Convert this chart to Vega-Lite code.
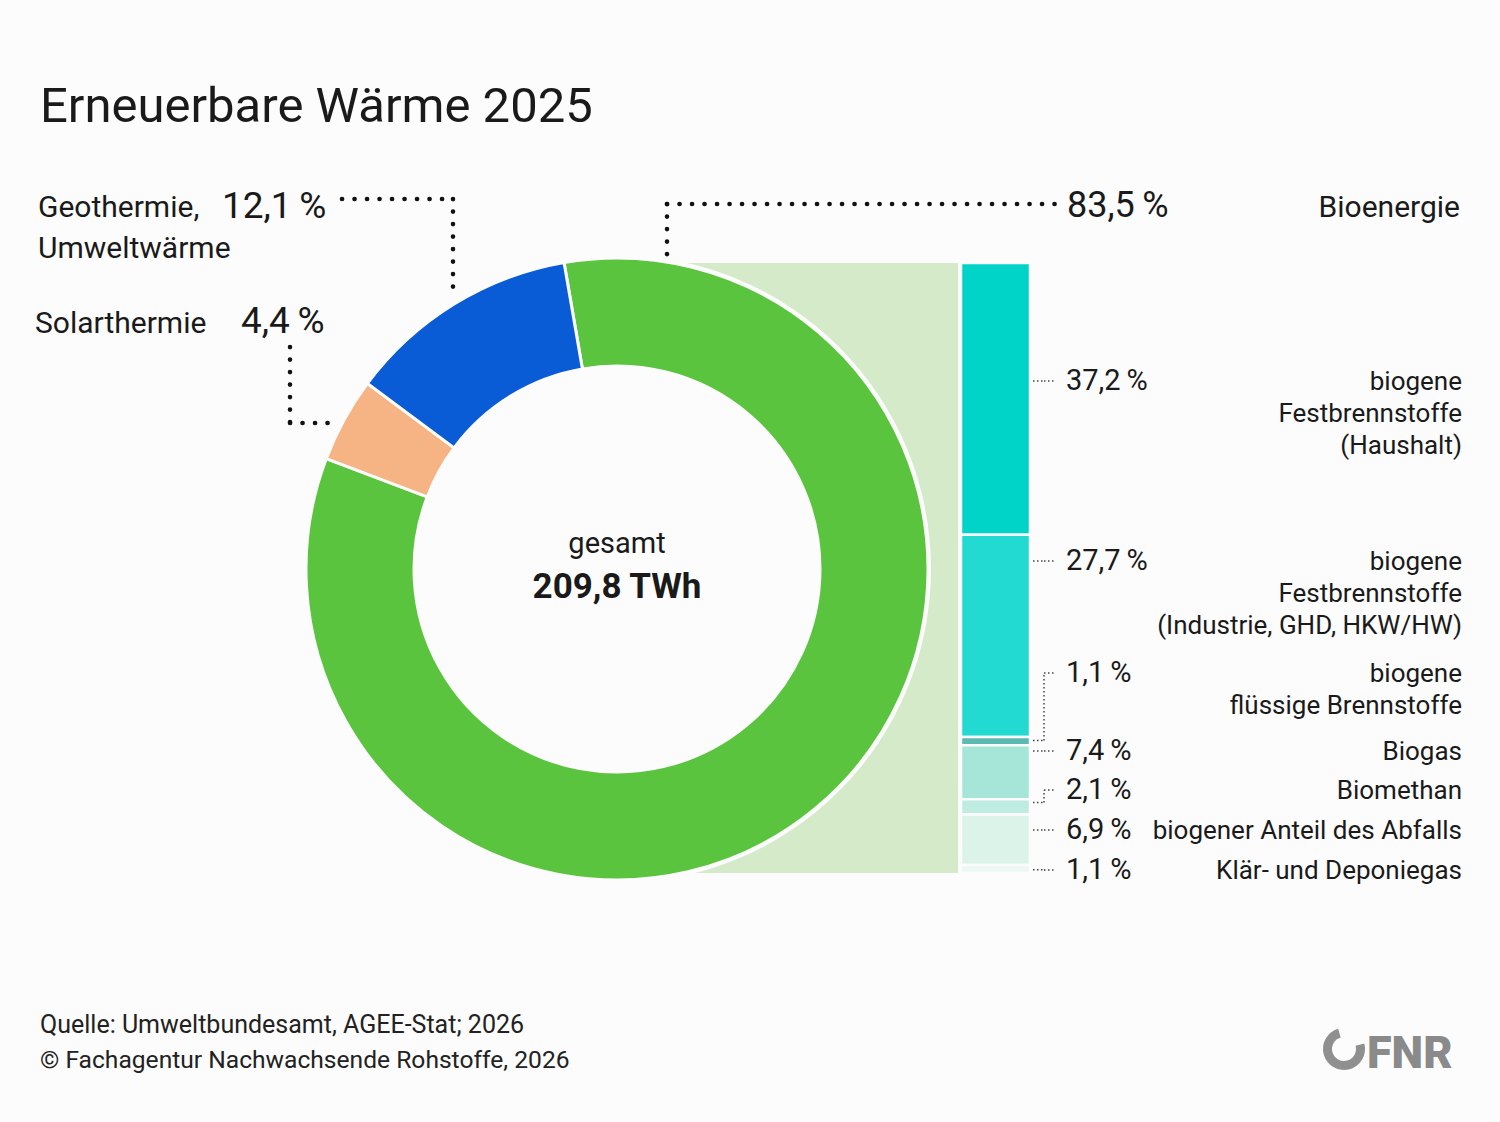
{
  "$schema": "https://vega.github.io/schema/vega-lite/v6.json",
  "width": 1500,
  "height": 610,
  "padding": {"left": 0, "top": 263, "right": 0, "bottom": 249},
  "autosize": {"type": "none"},
  "background": "#fcfcfc",
  "config": {
    "view": {"stroke": null},
    "font": "Roboto",
    "text": {"font": "Roboto", "color": "#1a1a1a"}
  },
  "datasets": {
    "heat": [
      {"key": "Bioenergie", "label": "Bioenergie", "value": 83.5, "order": 1},
      {"key": "Solarthermie", "label": "Solarthermie", "value": 4.4, "order": 2},
      {"key": "Geothermie, Umweltwärme", "label": "Geothermie,\nUmweltwärme", "value": 12.1, "order": 3}
    ],
    "bio": [
      {"key": "Haushalt", "label": "biogene\nFestbrennstoffe\n(Haushalt)", "value": 37.2, "order": 1},
      {"key": "Industrie", "label": "biogene\nFestbrennstoffe\n(Industrie, GHD, HKW/HW)", "value": 27.7, "order": 2},
      {"key": "flüssig", "label": "biogene\nflüssige Brennstoffe", "value": 1.1, "order": 3},
      {"key": "Biogas", "label": "Biogas", "value": 7.4, "order": 4},
      {"key": "Biomethan", "label": "Biomethan", "value": 2.1, "order": 5},
      {"key": "Abfall", "label": "biogener Anteil des Abfalls", "value": 6.9, "order": 6},
      {"key": "Klärgas", "label": "Klär- und Deponiegas", "value": 1.1, "order": 7}
    ]
  },
  "layer": [
    {
      "description": "light green band linking the bioenergy slice to the breakdown column",
      "data": {"name": "heat"},
      "transform": [{"filter": "datum.key === 'Bioenergie'"}],
      "mark": {"type": "rect", "x": 667, "x2": 958, "fill": "#d4eac8"},
      "encoding": {
        "y": {"field": "value", "type": "quantitative", "scale": {"domain": [0, 83.5], "reverse": true, "nice": false, "zero": false}, "axis": null},
        "y2": {"datum": 0}
      }
    },
    {
      "description": "background disc: white halo round the ring and the hole inside it",
      "data": {"name": "heat"},
      "transform": [{"filter": "datum.key === 'Bioenergie'"}],
      "mark": {"type": "arc", "x": 617, "y": 306, "outerRadius": 314, "innerRadius": 0, "theta": 0, "theta2": 6.2832, "fill": "#fcfcfc"},
      "encoding": {}
    },
    {
      "description": "ring of renewable heat sources",
      "data": {"name": "heat"},
      "mark": {"type": "arc", "x": 617, "y": 306, "outerRadius": 311, "innerRadius": 203, "stroke": "#fcfcfc", "strokeWidth": 3},
      "encoding": {
        "theta": {"field": "value", "type": "quantitative", "stack": true, "scale": {"range": [-0.171, 6.112]}},
        "order": {"field": "order", "type": "quantitative"},
        "color": {
          "field": "key",
          "type": "nominal",
          "legend": null,
          "scale": {
            "domain": ["Bioenergie", "Solarthermie", "Geothermie, Umweltwärme", "Haushalt", "Industrie", "flüssig", "Biogas", "Biomethan", "Abfall", "Klärgas"],
            "range": ["#5bc43e", "#f6b383", "#0a5cd6", "#00d3c7", "#22dad2", "#5ab9b0", "#a6e6d8", "#bfece1", "#dcf3ea", "#ecf8f3"]
          }
        }
      }
    },
    {
      "data": {"name": "heat"},
      "transform": [{"filter": "datum.key === 'Bioenergie'"}],
      "mark": {"type": "text", "text": "gesamt", "x": 617, "y": 290, "align": "center", "baseline": "alphabetic", "fontSize": 29},
      "encoding": {}
    },
    {
      "data": {"name": "heat"},
      "transform": [{"filter": "datum.key === 'Bioenergie'"}],
      "mark": {"type": "text", "text": "209,8 TWh", "x": 617, "y": 335, "align": "center", "baseline": "alphabetic", "fontSize": 35, "fontWeight": "bold"},
      "encoding": {}
    },
    {
      "description": "breakdown of bioenergy",
      "data": {"name": "bio"},
      "transform": [
        {"stack": "value", "groupby": [], "sort": [{"field": "order", "order": "ascending"}], "as": ["v0", "v1"]},
        {"calculate": "(datum.v0 + datum.v1) / 2", "as": "mid"},
        {"calculate": "datum.mid + [-2.45, -10.26, -9.32, -2.9, -2.31, -1.33, 0.14][datum.order - 1]", "as": "labelAt"},
        {"calculate": "clamp(datum.labelAt, datum.v0 + 0.45, datum.v1 - 0.45)", "as": "attach"},
        {"calculate": "replace(format(datum.value, '.1f'), '.', ',') + '\u2009%'", "as": "pct"}
      ],
      "layer": [
        {
          "mark": {"type": "rect", "x": 961, "x2": 1030, "stroke": "#fcfcfc", "strokeWidth": 2.5},
          "encoding": {
            "y": {"field": "v0", "type": "quantitative", "axis": null},
            "y2": {"field": "v1"},
            "color": {"field": "key", "type": "nominal", "legend": null}
          }
        },
        {
          "mark": {"type": "rule", "x": 1033, "x2": 1044, "stroke": "#444", "strokeWidth": 1.5, "strokeDash": [1.5, 2.5]},
          "encoding": {"y": {"field": "attach", "type": "quantitative"}}
        },
        {
          "mark": {"type": "rule", "x": 1044, "stroke": "#444", "strokeWidth": 1.5, "strokeDash": [1.5, 2.5]},
          "encoding": {"y": {"field": "attach", "type": "quantitative"}, "y2": {"field": "labelAt"}}
        },
        {
          "mark": {"type": "rule", "x": 1044, "x2": 1056, "stroke": "#444", "strokeWidth": 1.5, "strokeDash": [1.5, 2.5]},
          "encoding": {"y": {"field": "labelAt", "type": "quantitative"}}
        },
        {
          "mark": {"type": "text", "x": 1066, "align": "left", "baseline": "middle", "fontSize": 29},
          "encoding": {"y": {"field": "labelAt", "type": "quantitative"}, "text": {"field": "pct"}}
        },
        {
          "mark": {"type": "text", "x": 1462, "align": "right", "baseline": "alphabetic", "dy": 9, "fontSize": 26, "lineHeight": 32, "lineBreak": "\n"},
          "encoding": {"y": {"field": "labelAt", "type": "quantitative"}, "text": {"field": "label"}}
        }
      ]
    },
    {
      "data": {"name": "heat"},
      "transform": [
        {"filter": "datum.key === 'Bioenergie'"},
        {"calculate": "replace(format(datum.value, '.1f'), '.', ',') + '\u2009%'", "as": "pct"}
      ],
      "layer": [
        {"mark": {"type": "text", "x": 1067, "y": -46, "align": "left", "baseline": "alphabetic", "fontSize": 36}, "encoding": {"text": {"field": "pct"}}},
        {"mark": {"type": "text", "x": 1460, "y": -46, "align": "right", "baseline": "alphabetic", "fontSize": 30}, "encoding": {"text": {"field": "label"}}},
        {"mark": {"type": "rule", "stroke": "#111", "strokeWidth": 4.6, "strokeCap": "round", "strokeDash": [0.1, 12.4]}, "encoding": {"x": {"value": 667}, "x2": {"value": 1055}, "y": {"value": -59}}},
        {"mark": {"type": "rule", "stroke": "#111", "strokeWidth": 4.6, "strokeCap": "round", "strokeDash": [0.1, 12.4]}, "encoding": {"x": {"value": 667}, "y": {"value": -59}, "y2": {"value": 2}}}
      ]
    },
    {
      "data": {"name": "heat"},
      "transform": [
        {"filter": "datum.key === 'Geothermie, Umweltwärme'"},
        {"calculate": "replace(format(datum.value, '.1f'), '.', ',') + '\u2009%'", "as": "pct"}
      ],
      "layer": [
        {"mark": {"type": "text", "x": 222, "y": -45, "align": "left", "baseline": "alphabetic", "fontSize": 37}, "encoding": {"text": {"field": "pct"}}},
        {"mark": {"type": "text", "x": 38, "y": -46, "align": "left", "baseline": "alphabetic", "fontSize": 30, "lineHeight": 41, "lineBreak": "\n"}, "encoding": {"text": {"field": "label"}}},
        {"mark": {"type": "rule", "stroke": "#111", "strokeWidth": 4.6, "strokeCap": "round", "strokeDash": [0.1, 12.4]}, "encoding": {"x": {"value": 342}, "x2": {"value": 453}, "y": {"value": -64}}},
        {"mark": {"type": "rule", "stroke": "#111", "strokeWidth": 4.6, "strokeCap": "round", "strokeDash": [0.1, 12.4]}, "encoding": {"x": {"value": 453}, "y": {"value": -64}, "y2": {"value": 35}}}
      ]
    },
    {
      "data": {"name": "heat"},
      "transform": [
        {"filter": "datum.key === 'Solarthermie'"},
        {"calculate": "replace(format(datum.value, '.1f'), '.', ',') + '\u2009%'", "as": "pct"}
      ],
      "layer": [
        {"mark": {"type": "text", "x": 241, "y": 70, "align": "left", "baseline": "alphabetic", "fontSize": 37}, "encoding": {"text": {"field": "pct"}}},
        {"mark": {"type": "text", "x": 35, "y": 70, "align": "left", "baseline": "alphabetic", "fontSize": 30}, "encoding": {"text": {"field": "label"}}},
        {"mark": {"type": "rule", "stroke": "#111", "strokeWidth": 4.6, "strokeCap": "round", "strokeDash": [0.1, 12.4]}, "encoding": {"x": {"value": 290}, "y": {"value": 84}, "y2": {"value": 160}}},
        {"mark": {"type": "rule", "stroke": "#111", "strokeWidth": 4.6, "strokeCap": "round", "strokeDash": [0.1, 12.4]}, "encoding": {"x": {"value": 290}, "x2": {"value": 332}, "y": {"value": 160}}}
      ]
    },
    {
      "description": "title, source notes and publisher mark",
      "data": {"name": "heat"},
      "transform": [{"filter": "datum.key === 'Bioenergie'"}],
      "layer": [
        {"mark": {"type": "text", "text": "Erneuerbare Wärme 2025", "x": 40, "y": -141, "align": "left", "baseline": "alphabetic", "fontSize": 49}, "encoding": {}},
        {"mark": {"type": "text", "text": "Quelle: Umweltbundesamt, AGEE-Stat; 2026", "x": 40, "y": 770, "align": "left", "baseline": "alphabetic", "fontSize": 25, "color": "#222"}, "encoding": {}},
        {"mark": {"type": "text", "text": "© Fachagentur Nachwachsende Rohstoffe, 2026", "x": 40, "y": 805, "align": "left", "baseline": "alphabetic", "fontSize": 24.6, "color": "#222"}, "encoding": {}},
        {"mark": {"type": "arc", "x": 1344, "y": 786, "outerRadius": 21, "innerRadius": 12, "theta": 1.3, "theta2": 6.0, "fill": "#8f8f8f"}, "encoding": {}},
        {"mark": {"type": "text", "text": "FNR", "x": 1367, "y": 805, "align": "left", "baseline": "alphabetic", "fontSize": 45, "fontWeight": 900, "color": "#8a8a8a"}, "encoding": {}}
      ]
    }
  ]
}
